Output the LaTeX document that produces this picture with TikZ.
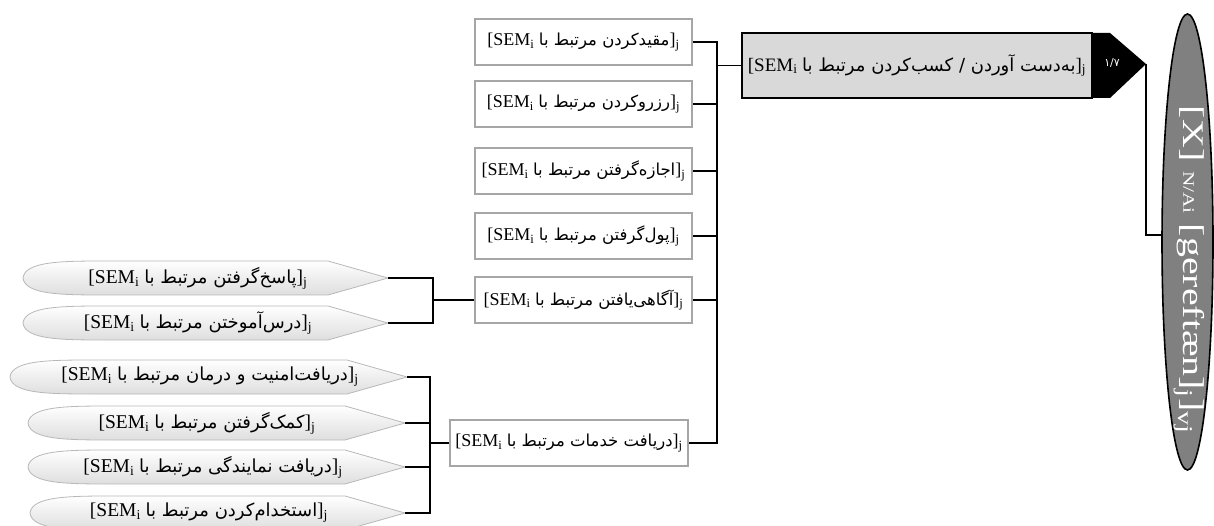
\documentclass[tikz,border=0pt]{standalone}
\usepackage{fontspec}
\setmainfont{Liberation Serif}
\newfontfamily\fa[Script=Arabic]{DejaVu Sans}
\TeXXeTstate=1
\usetikzlibrary{shapes.geometric}
\newcommand{\plab}[1]{[SEM\textsubscript{i} {\fa\fontsize{16.5}{18}\selectfont\beginR #1\endR}]\textsubscript{j}}
\newcommand{\qlab}[1]{[SEM\textsubscript{i} {\fa\fontsize{18}{20}\selectfont\beginR #1\endR}]\textsubscript{j}}
\newcommand{\leafshape}[3]{%
  \path[leafsh] (#1,#3) .. controls (#1+2,#3-17) and (#1+40,#3-17) .. (#1+85,#3-17)
    -- (#2-60,#3-17) -- (#2,#3) -- (#2-60,#3+17) -- (#1+85,#3+17)
    .. controls (#1+40,#3+17) and (#1+2,#3+17) .. (#1,#3) -- cycle;}
\begin{document}
\begin{tikzpicture}[x=1pt,y=-1pt,
  lbl/.style={font=\fontsize{18}{20}\selectfont, inner sep=0pt},
  llbl/.style={font=\fontsize{19.5}{21}\selectfont, inner sep=0pt},
  gbox/.style={lbl, draw=black!35, line width=2pt, fill=white, minimum height=46pt, minimum width=217pt},
  conn/.style={line width=1.7pt},
  sconn/.style={line width=1.2pt},
  leafsh/.style={draw=black!28, line width=0.8pt, top color=white, bottom color=black!13}]
\useasboundingbox (0,0) rectangle (1214,526);

% middle column
\node[gbox] (b1) at (583.5,42) {\plab{مقیدکردن مرتبط با}};
\node[gbox] (b2) at (583.5,104) {\plab{رزروکردن مرتبط با}};
\node[gbox] (b3) at (583.5,171) {\plab{اجازه^^^^200cگرفتن مرتبط با}};
\node[gbox] (b4) at (583.5,236) {\plab{پول^^^^200cگرفتن مرتبط با}};
\node[gbox] (b5) at (583.5,300) {\plab{آگاهی^^^^200cیافتن مرتبط با}};
\node[gbox, minimum width=238pt] (b6) at (569,443) {\plab{دریافت خدمات مرتبط با}};

% top box with black arrow end
\node[lbl, draw=black, line width=2pt, fill=black!15, minimum width=350pt, minimum height=65pt,
      font=\fontsize{19}{21}\selectfont] (top) at (917,65.5)
      {[SEM\textsubscript{i} {\fa\fontsize{18}{20}\selectfont\beginR به^^^^200cدست آوردن / کسب^^^^200cکردن مرتبط با\endR}]\textsubscript{j}};
\fill (1092,33) -- (1110,33) -- (1146,64) -- (1110,98) -- (1092,98) -- cycle;
\coordinate (tip) at (1146,64);
\node[text=white, inner sep=0pt, font=\fa\fontsize{11}{12}\selectfont] (frac) at (1112,63) {۱/۷};

% ellipse
\node[ellipse, draw, line width=1.6pt, fill=black!50, minimum width=51pt, minimum height=456pt, inner sep=0pt] (ell) at (1187.5,242) {};
\node[rotate=-90, text=white, inner sep=0pt, font=\fontsize{30}{32}\selectfont] (etext) at (1189,270)
  {\scalebox{1.33}[1]{[X] {\fontsize{16}{18}\selectfont N/Ai} [gereftæn]\textsubscript{j}]\textsubscript{vj}}};

% main connectors
\coordinate (bus) at (717,0);
\coordinate (ejoin) at (1146,235);
\draw[conn] (b1.east) -- (bus |- b1.east) -- (bus |- b6.east) -- (b6.east);
\foreach \n in {b2,b3,b4,b5} \draw[conn] (\n.east) -- (bus |- \n.east);
\draw[conn] (bus |- top.west) -- (top.west);
\draw[conn] (tip) -- (ejoin) -- (ell.west |- ejoin);

% leaves group 1
\leafshape{23}{388}{278}
\leafshape{23}{388}{323}
\node[llbl] (l1) at (198,278) {\qlab{پاسخ^^^^200cگرفتن مرتبط با}};
\node[llbl] (l2) at (198,323) {\qlab{درس^^^^200cآموختن مرتبط با}};
\coordinate (t1) at (388,278);
\coordinate (t2) at (388,323);
\coordinate (g1) at (433,0);
\draw[sconn] (t1) -- (g1 |- t1) -- (g1 |- t2) -- (t2);
\draw[sconn] (b5.west) -- (g1 |- b5.west);

% leaves group 2
\leafshape{10}{407}{377}
\leafshape{28}{405}{423}
\leafshape{28}{405}{467}
\leafshape{30}{405}{513}
\node[llbl] (la) at (210,377) {\qlab{دریافت^^^^200cامنیت و درمان مرتبط با}};
\node[llbl] (lb) at (207,423) {\qlab{کمک^^^^200cگرفتن مرتبط با}};
\node[llbl] (lc) at (213,467) {\qlab{دریافت نمایندگی مرتبط با}};
\node[llbl] (ld) at (209,513) {\qlab{استخدام^^^^200cکردن مرتبط با}};
\coordinate (ta) at (407,377);
\coordinate (tb) at (405,423);
\coordinate (tc) at (405,467);
\coordinate (td) at (405,513);
\coordinate (g2) at (430,0);
\draw[sconn] (ta) -- (g2 |- ta) -- (g2 |- td) -- (td);
\draw[sconn] (tb) -- (g2 |- tb);
\draw[sconn] (tc) -- (g2 |- tc);
\draw[sconn] (b6.west) -- (g2 |- b6.west);
\end{tikzpicture}
\end{document}
